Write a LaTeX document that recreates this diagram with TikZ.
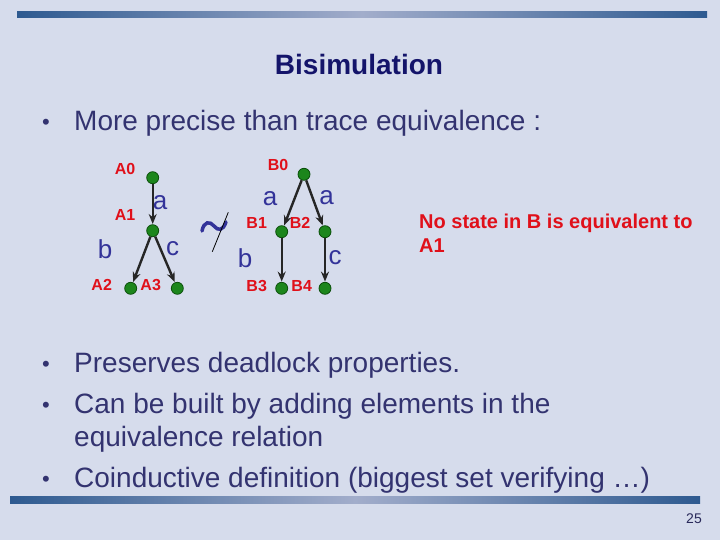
\documentclass[tikz,border=0pt]{standalone}
\usepackage{fontspec}
\setmainfont{Liberation Sans}
\usetikzlibrary{arrows.meta}
\definecolor{bg}{HTML}{D6DCEC}
\definecolor{barend}{HTML}{2E5A90}
\definecolor{barmid}{HTML}{A2ADCB}
\definecolor{titlec}{HTML}{14146A}
\definecolor{bodyc}{HTML}{333370}
\definecolor{lblblue}{HTML}{333399}
\definecolor{lblred}{HTML}{E0101A}
\definecolor{stfill}{HTML}{1C861C}
\definecolor{stdraw}{HTML}{0B4F0B}
\tikzset{
  body/.style={anchor=base west,inner sep=0,text=bodyc,font=\fontsize{28bp}{33bp}\selectfont},
  bul/.style={anchor=base west,inner sep=0,text=bodyc,font=\fontsize{22bp}{26bp}\selectfont},
  lbl/.style={inner sep=0,text=lblred,font=\fontsize{16bp}{19bp}\selectfont\bfseries},
  act/.style={inner sep=0,text=lblblue,font=\fontsize{26bp}{30bp}\selectfont},
  st/.style={circle,minimum size=12bp,inner sep=0,fill=stfill,draw=stdraw,line width=0.8bp},
  arr/.style={-{Stealth[length=10bp,width=8bp]},line width=2.4bp,black!85,shorten >=0.3bp},
  bar/.style={left color=barend,right color=barend,middle color=barmid}
}
\begin{document}
\begin{tikzpicture}[x=1bp,y=-1bp]
\useasboundingbox (0,0) rectangle (720,540);
\fill[bg] (0,0) rectangle (720,540);
\shade[bar] (17,12) rectangle (707,18);
\shade[bar] (10,496) rectangle (700,503);

\node[anchor=base,inner sep=0,text=titlec,font=\fontsize{28bp}{33bp}\selectfont\bfseries] (title) at (359,75) {Bisimulation};

\node[bul] (b1) at (42,130) {•};
\node[body] (t1) at (74,131) {More precise than trace equivalence :};

% A tree
\node[st] (a0) at (152.7,177.7) {};
\node[st] (a1) at (152.7,230.7) {};
\node[st] (a2) at (130.7,288.3) {};
\node[st] (a3) at (177.3,288.3) {};
\node[lbl] (la0) at (125,169) {A0};
\node[lbl] (la1) at (125,215) {A1};
\node[lbl] (la2) at (101.7,285) {A2};
\node[lbl] (la3) at (150.7,285) {A3};
\node[act] (aa) at (160,202.7) {a};
\node[act] (ab) at (105,249) {b};
\node[act] (ac) at (172.7,249) {c};
\draw[arr] (a0) -- (a1);
\draw[arr] (a1) -- (a2);
\draw[arr] (a1) -- (a3);

% not bisimilar sign
\draw[lblblue,line width=3.5bp,line cap=round] (202,231) .. controls (204,221) and (210,221) .. (214,226) .. controls (218,231) and (223,231) .. (226,222);
\draw[black,line width=0.8bp] (228.3,212.3) -- (212.3,251.7);

% B tree
\node[st] (b0) at (304,174.3) {};
\node[st] (bb1) at (281.7,231.7) {};
\node[st] (bb2) at (325,231.7) {};
\node[st] (bb3) at (281.7,288.3) {};
\node[st] (bb4) at (325,288.3) {};
\node[lbl] (lb0) at (278,165) {B0};
\node[lbl] (lb1) at (256.7,223) {B1};
\node[lbl] (lb2) at (300,223) {B2};
\node[lbl] (lb3) at (256.7,286) {B3};
\node[lbl] (lb4) at (301.7,286) {B4};
\node[act] (ba1) at (270,199) {a};
\node[act] (ba2) at (326.7,198) {a};
\node[act] (bb) at (245,258) {b};
\node[act] (bc) at (335,258) {c};
\draw[arr] (b0) -- (bb1);
\draw[arr] (b0) -- (bb2);
\draw[arr] (bb1) -- (bb3);
\draw[arr] (bb2) -- (bb4);

\node[anchor=base west,inner sep=0,text=lblred,font=\fontsize{20bp}{24bp}\selectfont\bfseries,align=left] (note) at (419,253) {No state in B is equivalent to\\A1};

\node[bul] (b2) at (42,371) {•};
\node[body] (t2) at (74,372) {Preserves deadlock properties.};
\node[bul] (b3) at (42,412) {•};
\node[body] (t3) at (74,413) {Can be built by adding elements in the};
\node[body] (t3b) at (74,446) {equivalence relation};
\node[bul] (b4) at (42,486) {•};
\node[body] (t4) at (74,487) {Coinductive definition (biggest set verifying …)};

\node[anchor=base east,inner sep=0,text=bodyc!80!black,font=\fontsize{14bp}{16bp}\selectfont] (pg) at (702,523) {25};
\end{tikzpicture}
\end{document}
